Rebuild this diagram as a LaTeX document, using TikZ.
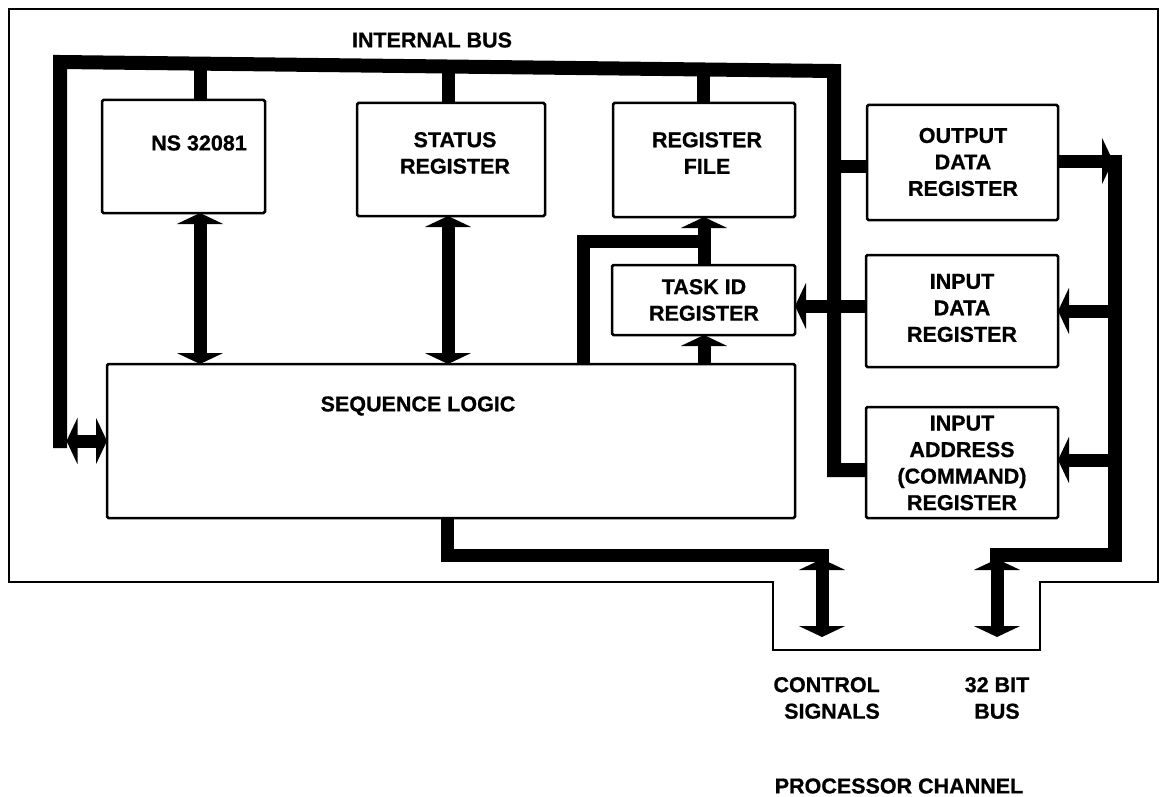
\documentclass[tikz,border=0pt]{standalone}
\usepackage{fontspec}
\setmainfont{Liberation Sans}[BoldFeatures={FakeBold=0.8}]
\usetikzlibrary{arrows.meta,calc}
\tikzset{
  box/.style={draw, line width=2.5pt, rounded corners=1.5pt, inner sep=0pt, outer sep=0pt, fill=white, anchor=north west},
  lbl/.style={font=\bfseries\fontsize{21.5}{26.5}\selectfont, align=center, inner sep=0pt},
  busline/.style={line width=14pt, line join=miter},
  shaft/.style={line width=13pt, line join=miter},
  frame/.style={line width=2.5pt, line join=miter},
  >={Triangle[width=46pt,length=11pt]}
}
\begin{document}
\begin{tikzpicture}[x=1pt,y=-1pt]
\useasboundingbox (0,0) rectangle (1161,797);
% outer frame
\draw[frame] (9,9) -- (1158,9) -- (1158,582) -- (1040,582) -- (1040,650) -- (773,650) -- (773,582) -- (9,582) -- cycle;

% boxes
\node[box, minimum width=163pt, minimum height=113pt] (ns) at (102,100) {};
\node[box, minimum width=188pt, minimum height=113pt] (status) at (357,103) {};
\node[box, minimum width=182pt, minimum height=114pt] (regfile) at (613,103) {};
\node[box, minimum width=191pt, minimum height=115pt] (outdata) at (867,105) {};
\node[box, minimum width=183pt, minimum height=70pt] (taskid) at (612,265) {};
\node[box, minimum width=192pt, minimum height=112pt] (indata) at (866,255) {};
\node[box, minimum width=192pt, minimum height=111pt] (inaddr) at (866,407) {};
\node[box, minimum width=688pt, minimum height=154pt] (seq) at (107,364) {};

% internal bus
\coordinate (busBL) at (60,448);
\coordinate (busTL) at (60,62);
\coordinate (busTR) at (834,71);
\coordinate (busBR) at (834,470);
\draw[busline] (busBL) -- (busTL) -- (busTR) -- (busBR) -- (busBR -| inaddr.west);

% drops from internal bus
\draw[shaft] ($(ns.north west)+(98,0)$) -- ($(ns.north west)+(98,-38)$);
\draw[shaft] ($(status.north west)+(91,0)$) -- ($(status.north west)+(91,-40)$);
\draw[shaft] ($(regfile.north west)+(90,0)$) -- ($(regfile.north west)+(90,-38)$);
\draw[shaft] ($(outdata.north west)+(0,61)$) -- ($(outdata.north west)+(-40,61)$);

% sequence logic links
\draw[shaft,<->] ($(ns.south west)+(98,0)$) -- ($(seq.north west)+(93,0)$);
\draw[shaft,<->] ($(status.south west)+(91,0)$) -- ($(seq.north west)+(341,0)$);
\draw[shaft,<->] ($(seq.north west)+(-40.5,77)$) -- ($(seq.north west)+(0,77)$);
\draw[shaft,->] ($(seq.north west)+(597,0)$) -- ($(taskid.south west)+(92,0)$);
\draw[shaft,->] ($(taskid.north west)+(92,0)$) -- ($(regfile.south west)+(91,0)$);
\draw[shaft] ($(seq.north west)+(476,0)$) -- ($(seq.north west)+(476,-123)$) -- ($(taskid.north west)+(98.5,-24)$);

% input data to task id
\draw[shaft,->] ($(indata.north west)+(0,51)$) -- ($(taskid.north east)+(0,41)$);

% external 32 bit bus
\coordinate (rbTop) at (1115,155);
\coordinate (rbBot) at (1115,555);
\coordinate (rbEnd) at (990,555);
\draw[busline] (rbTop) -- (rbBot) -- (rbEnd);
\draw[shaft,->] ($(outdata.north east)+(0,56)$) -- ($(outdata.north east)+(55,56)$);
\draw[shaft,->] ($(indata.north east)+(57,56)$) -- ($(indata.north east)+(0,56)$);
\draw[shaft,->] ($(inaddr.north east)+(57,53)$) -- ($(inaddr.north east)+(0,53)$);
\coordinate (busOut) at (997,637);
\draw[shaft,<->] ($(rbEnd)+(7,4)$) -- (busOut);

% control signals
\coordinate (ctlOut) at (822,637);
\draw[shaft] ($(seq.south west)+(340,0)$) -- ($(seq.south west)+(340,37)$) -- ($(seq.south west)+(721.5,37)$);
\draw[shaft,<->] ($(seq.south west)+(715,41)$) -- (ctlOut);

% labels
\node[lbl] (tIB) at (432,40) {INTERNAL BUS};
\node[lbl] (tNS) at (199,143) {NS 32081};
\node[lbl] (tST) at (455,153) {STATUS\\REGISTER};
\node[lbl] (tRF) at (707,153) {REGISTER\\FILE};
\node[lbl] (tOD) at (963,162) {OUTPUT\\DATA\\REGISTER};
\node[lbl] (tTI) at (704,300) {TASK ID\\REGISTER};
\node[lbl] (tID) at (962,308) {INPUT\\DATA\\REGISTER};
\node[lbl] (tIA) at (962,463) {INPUT\\ADDRESS\\(COMMAND)\\REGISTER};
\node[lbl] (tSL) at (418,406) {SEQUENCE LOGIC};
\node[lbl, align=right, anchor=east] (tCS) at (880,698) {CONTROL\\SIGNALS};
\node[lbl] (tBB) at (997,698) {32 BIT\\BUS};
\node[lbl] (tPC) at (899,786) {PROCESSOR CHANNEL};
\end{tikzpicture}
\end{document}
